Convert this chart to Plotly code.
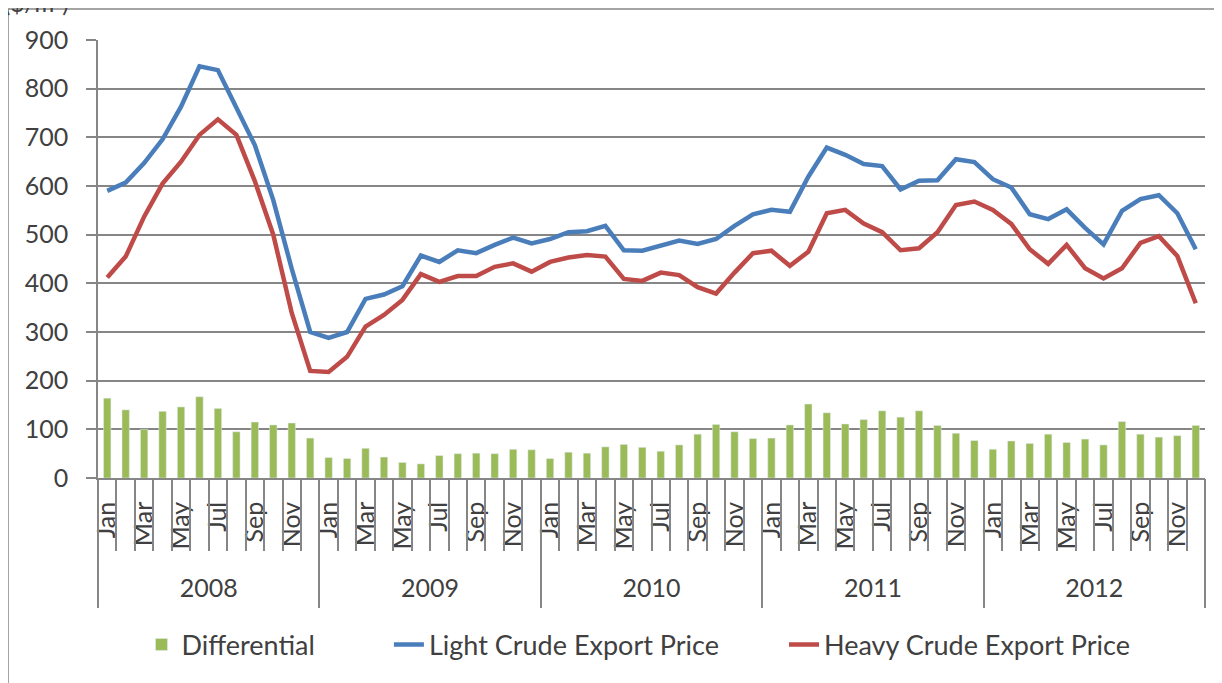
import plotly.graph_objects as go

years = ["2008", "2009", "2010", "2011", "2012"]
months = ["Jan", "Feb", "Mar", "Apr", "May", "Jun",
          "Jul", "Aug", "Sep", "Oct", "Nov", "Dec"]
categories = [m + " " + y for y in years for m in months]
month_labels = [m for y in years for m in months]

# ($/m3)
differential = [164, 140, 100, 137, 146, 167, 143, 95, 115, 109, 113, 82,
                42, 40, 61, 43, 32, 29, 46, 50, 51, 50, 59, 58,
                40, 53, 51, 64, 69, 63, 55, 68, 90, 110, 95, 81,
                82, 109, 152, 134, 111, 120, 138, 125, 138, 108, 92, 77,
                59, 76, 71, 90, 73, 80, 68, 116, 90, 84, 87, 108]
light_price = [590, 607, 647, 696, 763, 846, 838, 763, 684, 571, 430, 300,
               288, 300, 368, 377, 394, 457, 444, 468, 462, 479, 494, 482,
               491, 505, 507, 518, 468, 467, 477, 488, 481, 491, 518, 542,
               551, 547, 619, 679, 664, 645, 641, 593, 611, 612, 655, 649,
               614, 597, 542, 532, 552, 514, 480, 549, 573, 581, 544, 470]
heavy_price = [412, 455, 537, 605, 650, 705, 737, 705, 610, 500, 339, 220,
               218, 249, 311, 335, 366, 419, 403, 415, 415, 434, 441, 424,
               444, 453, 458, 455, 409, 405, 422, 417, 392, 379, 422, 462,
               467, 436, 465, 544, 551, 523, 505, 468, 472, 505, 561, 568,
               551, 522, 470, 440, 479, 431, 410, 431, 483, 497, 456, 359]

GRID = "#868686"
TEXT = "#404040"

fig = go.Figure()
fig.add_trace(go.Bar(x=categories, y=differential, name="Differential",
                     marker_color="#9BBB59", legend="legend"))
fig.add_trace(go.Scatter(x=categories, y=light_price, mode="lines",
                         name="Light Crude Export Price", legend="legend2",
                         line=dict(color="#4A7EBB", width=4.5)))
fig.add_trace(go.Scatter(x=categories, y=heavy_price, mode="lines",
                         name="Heavy Crude Export Price", legend="legend3",
                         line=dict(color="#BE4B48", width=4.5)))
# helper traces so the tick axes have their categories
fig.add_trace(go.Scatter(x=categories, y=[None] * len(categories), xaxis="x2",
                         showlegend=False, hoverinfo="skip"))
fig.add_trace(go.Scatter(x=years, y=[None] * len(years), xaxis="x3",
                         showlegend=False, hoverinfo="skip"))

leg = dict(orientation="h", xanchor="left", y=-0.381, yanchor="middle",
           font=dict(size=27, color=TEXT), bgcolor="rgba(0,0,0,0)")

# page body has an 8px margin, so the figure is 8px smaller than the window
fig.update_layout(
    width=1214, height=675,
    margin=dict(l=90, r=17, t=32, b=205),
    paper_bgcolor="white", plot_bgcolor="white",
    font=dict(family="Lato", size=24, color=TEXT),
    bargap=0.6,
    xaxis=dict(type="category", range=[-0.5, 59.5], automargin=False,
               tickmode="array", tickvals=categories[::2],
               ticktext=month_labels[::2],
               tickangle=-90, ticks="", showgrid=False,
               showline=True, linecolor=GRID, linewidth=1.5,
               tickfont=dict(size=25, color=TEXT), ticklabelstandoff=12),
    xaxis2=dict(type="category", overlaying="x", anchor="y", side="bottom",
                range=[-0.5, 59.5], tickmode="array", tickvals=categories,
                tickson="boundaries", ticks="outside", ticklen=72,
                tickcolor=GRID, tickwidth=1.5, showticklabels=False,
                showgrid=False, showline=False, automargin=False),
    xaxis3=dict(type="category", overlaying="x", anchor="y", side="bottom",
                range=[-0.5, 4.5], tickmode="array", tickvals=years,
                tickson="boundaries", ticks="outside", ticklen=129,
                tickcolor=GRID, tickwidth=1.5, showgrid=False, showline=False,
                tickfont=dict(size=25, color=TEXT), ticklabelstandoff=93,
                automargin=False),
    yaxis=dict(range=[0, 900], dtick=100, gridcolor=GRID, gridwidth=1.5,
               showline=True, linecolor=GRID, linewidth=1.5,
               ticks="outside", ticklen=10, tickcolor=GRID, tickwidth=1.5,
               zeroline=False, tickfont=dict(size=25, color=TEXT),
               ticklabelstandoff=13, automargin=False),
    legend=dict(leg, x=0.0393),
    legend2=dict(leg, x=0.2628),
    legend3=dict(leg, x=0.6197),
    showlegend=True,
)

# outer chart border
fig.add_shape(type="rect", xref="paper", yref="paper",
              x0=-0.0813, x1=1.05, y0=-0.6, y1=1.0708,
              line=dict(color=GRID, width=1.5), layer="below")
# unit label, cut by the top edge as in the source image
fig.add_annotation(text="($/m³)", xref="paper", yref="paper",
                   x=-0.087, xanchor="left", y=1.0845, yanchor="middle",
                   showarrow=False, font=dict(size=24, color=TEXT))

fig.write_html("out.html")
